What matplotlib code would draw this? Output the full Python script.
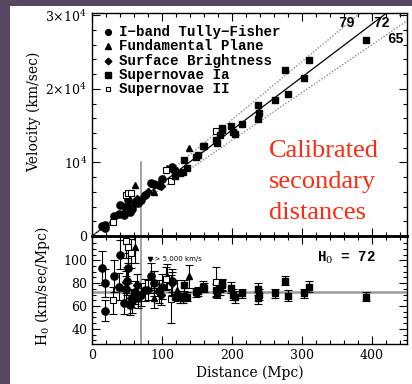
import numpy as np
import matplotlib
matplotlib.use('Agg')
import matplotlib.pyplot as plt
from matplotlib.ticker import MultipleLocator, FixedLocator, FixedFormatter
from matplotlib.patches import Rectangle
from matplotlib.lines import Line2D

plt.rcParams['mathtext.fontset'] = 'dejavuserif'

# ---------------- data ----------------
# I-band Tully-Fisher (filled circles)
tf_d = [14, 18, 19, 31, 38, 40, 45, 48, 50, 52, 54, 57, 62, 66, 70, 76, 84, 88, 95, 100, 114]
tf_v = [1300, 1440, 1060, 2670, 2930, 4200, 2840, 3600, 4100, 4840, 3290, 3650, 4460, 4420, 4900,
        5620, 7220, 7040, 6940, 7700, 9350]
tf_h0 = [93, 80, 56, 86, 77, 105, 63, 75, 82, 93, 61, 64, 72, 67, 70, 74, 86, 80, 73, 77, 82]
tf_err = [15, 12, 9, 14, 12, 13, 10, 11, 12, 13, 9, 10, 10, 9, 10, 10, 12, 11, 10, 11, 10]

# Fundamental Plane (triangles)
fp_d = [62, 88, 89, 107, 122, 138]
fp_v = [6940, 7130, 5960, 9200, 9030, 11900]
fp_h0 = [112, 81, 67, 86, 74, 86]
fp_err = [14, 10, 9, 11, 9, 10]

# Surface Brightness Fluctuations (diamonds)
sbf_d = [48, 55, 64, 80, 98, 114]
sbf_v = [3890, 3690, 4990, 5920, 6860, 9120]
sbf_h0 = [81, 67, 78, 74, 70, 80]
sbf_err = [10, 8, 10, 9, 9, 10]

# Supernovae Ia (filled squares)
sn1_d = [119, 125, 130, 132, 136, 149, 151, 159, 160, 177, 178, 183, 185, 186, 198, 202, 204, 214,
         237, 237, 239, 261, 275, 280, 303, 310, 391]
sn1_v = [8100, 8500, 8700, 10300, 9200, 10700, 11000, 12200, 12200, 13100, 12600, 13700, 14400, 14700,
         15000, 14100, 13900, 15200, 17800, 15900, 16700, 18500, 22600, 19300, 21500, 23900, 26600]
sn1_h0 = [68, 68, 67, 78, 68, 72, 73, 77, 76, 74, 71, 75, 78, 79, 76, 70, 68, 71, 75, 67, 70, 71, 82,
          69, 71, 77, 68]
sn1_err = [4, 5, 4, 5, 4, 4, 4, 5, 4, 5, 4, 5, 5, 5, 5, 5, 5, 4, 5, 5, 5, 4, 4, 5, 4, 5, 4]

# Supernovae II (open squares)
sn2_d = [30, 48, 52, 56, 106, 113, 177]
sn2_v = [1950, 5600, 5800, 5900, 8900, 7500, 14300]
sn2_h0 = [65, 117, 112, 106, 84, 66, 81]
sn2_err = [12, 15, 14, 13, 10, 21, 13]

h0_fit = 72
h0_bounds = [79, 65]
d_cut = 70
v_cut = 10000

x_ticks = [0, 100, 200, 300, 400]
v_ticks = [0, 10000, 20000, 30000]
v_ticklabels = ['0', r'$10^4$', r'$2{\times}10^4$', r'$3{\times}10^4$']
h_ticks = [40, 60, 80, 100]

# ---------------- figure ----------------
W, H = 412, 384
fig = plt.figure(figsize=(W / 100, H / 100), dpi=100, facecolor='#574760')
fig.patches.append(Rectangle((10 / W, 0), 1 - 10 / W, 1 - 6 / H, transform=fig.transFigure,
                             facecolor='white', edgecolor='none', zorder=-10))


def fx(px):
    return px / W


def fy(py):
    return 1 - py / H


ax1 = fig.add_axes([fx(92), fy(236), (407 - 92) / W, (236 - 13) / H])
ax2 = fig.add_axes([fx(92), fy(344), (407 - 92) / W, (344 - 236) / H])
ax1.set_zorder(2)
ax2.set_zorder(2)

serif = 'DejaVu Serif'
mono = 'Liberation Mono'

styles = {
    'tf': dict(marker='o', ms=5.2, mfc='black', mec='black'),
    'fp': dict(marker='^', ms=5.0, mfc='black', mec='black'),
    'sbf': dict(marker='D', ms=4.2, mfc='black', mec='black'),
    'sn1': dict(marker='s', ms=4.6, mfc='black', mec='black'),
    'sn2': dict(marker='s', ms=4.4, mfc='white', mec='black', mew=0.8),
}

sets = [
    ('tf', tf_d, tf_v, tf_h0, tf_err),
    ('fp', fp_d, fp_v, fp_h0, fp_err),
    ('sbf', sbf_d, sbf_v, sbf_h0, sbf_err),
    ('sn2', sn2_d, sn2_v, sn2_h0, sn2_err),
    ('sn1', sn1_d, sn1_v, sn1_h0, sn1_err),
]

# top panel
xl = np.array([0, 450])
ax1.plot(xl, h0_fit * xl, color='black', lw=0.9, zorder=2)
for h in h0_bounds:
    ax1.plot(xl, h * xl, color='#777777', lw=0.9, ls=(0, (1, 1.5)), zorder=2)
ax1.plot([d_cut, d_cut], [0, v_cut], color='#888888', lw=1.1, zorder=1)
for key, d, v, h0, e in sets:
    ax1.plot(d, v, ls='none', zorder=3, **styles[key])

ax1.set_xlim(0, 450)
ax1.set_ylim(0, 30300)
ax1.xaxis.set_major_locator(FixedLocator(x_ticks))
ax1.xaxis.set_minor_locator(MultipleLocator(20))
ax1.yaxis.set_major_locator(FixedLocator(v_ticks))
ax1.yaxis.set_major_formatter(FixedFormatter(v_ticklabels))
ax1.yaxis.set_minor_locator(MultipleLocator(2000))
ax1.tick_params(labelbottom=False)

for lab, d, v in zip(['79', '72', '65'], [364, 413, 433], [28900, 29000, 26700]):
    ax1.text(d, v, lab, ha='center', va='center', fontsize=10, fontfamily=mono,
             fontweight='bold', zorder=4)

# bottom panel
ax2.axhline(h0_fit, color='#999999', lw=1.8, zorder=1)
ax2.axvline(d_cut, color='#888888', lw=1.1, zorder=1)
for key, d, v, h0, e in sets:
    st = styles[key]
    ax2.errorbar(d, h0, yerr=e, fmt='none', ecolor='black', elinewidth=0.8, capsize=2.6,
                 capthick=0.8, zorder=2)
    ax2.plot(d, h0, ls='none', zorder=3, **st)

ax2.set_xlim(0, 450)
ax2.set_ylim(26.7, 121.2)
ax2.xaxis.set_major_locator(FixedLocator(x_ticks))
ax2.xaxis.set_minor_locator(MultipleLocator(20))
ax2.yaxis.set_major_locator(FixedLocator(h_ticks))
ax2.yaxis.set_minor_locator(MultipleLocator(5))

for ax in (ax1, ax2):
    ax.tick_params(which='both', direction='in', top=True, right=True, width=0.8)
    ax.tick_params(which='major', length=6)
    ax.tick_params(which='minor', length=3)
    ax.tick_params(labelsize=9)
    for lab in ax.get_xticklabels() + ax.get_yticklabels():
        lab.set_fontfamily(serif)
    for s in ax.spines.values():
        s.set_linewidth(1.0)
    ax.set_facecolor('none')
ax1.spines['bottom'].set_linewidth(1.8)
ax2.spines['top'].set_linewidth(1.8)

# legend (manual)
leg = [('I\u2212band Tully\u2212Fisher', 'tf'), ('Fundamental Plane', 'fp'),
       ('Surface Brightness', 'sbf'), ('Supernovae Ia', 'sn1'), ('Supernovae II', 'sn2')]
for i, (label, key) in enumerate(leg):
    y = 32 + i * 14.3
    st = dict(styles[key])
    st['ms'] = st['ms'] * 0.8
    fig.add_artist(Line2D([fx(108)], [fy(y)], transform=fig.transFigure, ls='none', **st))
    fig.text(fx(119), fy(y), label, fontfamily=mono, fontweight='bold', fontsize=10.2,
             va='center', ha='left')

fig.text(fx(317), fy(258), r'H$_0$ = 72', fontfamily=mono, fontweight='bold', fontsize=10.2,
         va='center', ha='left')

# > 5,000 km/s note
fig.add_artist(Line2D([fx(150)], [fy(259)], transform=fig.transFigure, marker='v', ms=3,
                      color='black', ls='none'))
fig.text(fx(152), fy(259), '-> 5,000 km/s', fontsize=5, fontfamily='DejaVu Sans',
         va='center', ha='left')

# red text
for txt, yb in zip(['Calibrated', 'secondary', 'distances'], [157, 188, 219]):
    fig.text(fx(269), fy(yb), txt, fontfamily='Liberation Serif', fontsize=19, color='#ff2a12',
             va='baseline', ha='left')

# axis labels
fig.text(fx(34), fy(112), 'Velocity (km/sec)', rotation=90, fontfamily=serif, fontsize=10,
         ha='center', va='center')
fig.text(fx(42), fy(286), r'H$_0$ (km/sec/Mpc)', rotation=90, fontfamily=serif, fontsize=10,
         ha='center', va='center')
fig.text(fx(250), fy(373), 'Distance (Mpc)', fontfamily=serif, fontsize=10, ha='center',
         va='center')

fig.savefig('out.png', dpi=100, facecolor=fig.get_facecolor())
